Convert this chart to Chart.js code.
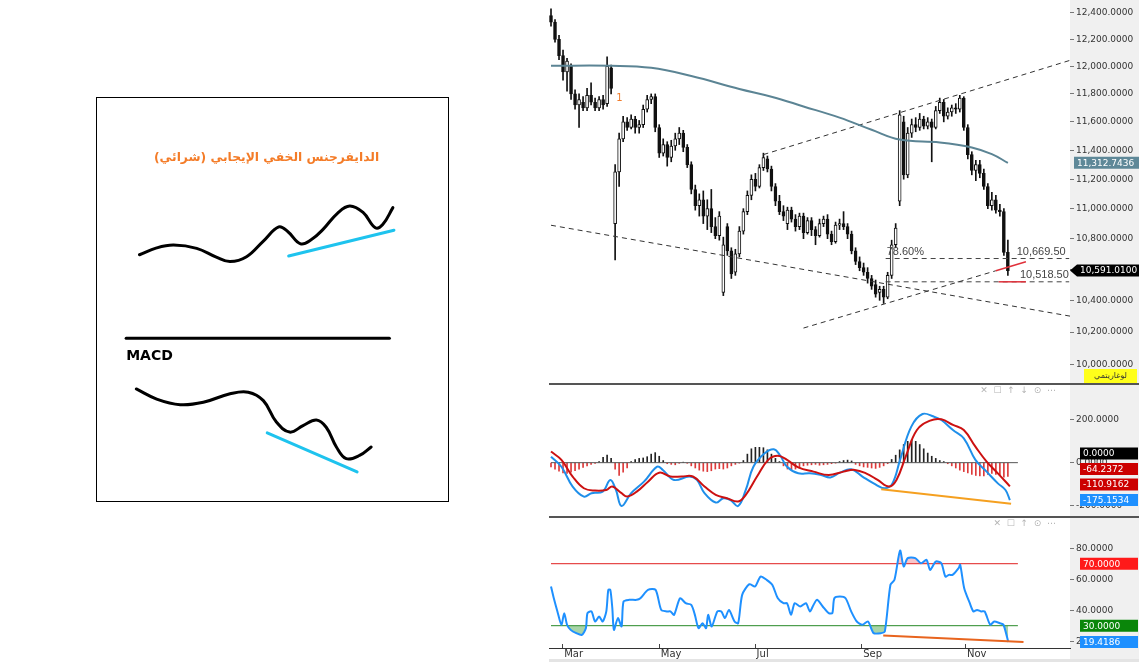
<!DOCTYPE html>
<html>
<head>
<meta charset="utf-8">
<script src="https://cdn.jsdelivr.net/npm/chart.js@4.4.1/dist/chart.umd.min.js"></script>
<style>
  body { margin:0; background:#fff; width:1139px; height:662px; overflow:hidden; position:relative; }
  .pane { position:absolute; }
  #sketchBox { left:96px; top:97px; width:351px; height:403px; border:1px solid #000; }
  #pricePane { left:549px; top:0; width:590px; height:383px; }
  #macdPane { left:549px; top:383px; width:590px; height:131px; border-top:2px solid #555; }
  #rsiPane { left:549px; top:516px; width:590px; height:144px; border-top:2px solid #555; }
</style>
</head>
<body>
<div class="pane" id="sketchBox"><canvas id="sketch" width="351" height="403"></canvas></div>
<div class="pane" id="pricePane"><canvas id="price" width="590" height="383"></canvas></div>
<div class="pane" id="macdPane"><canvas id="macd" width="590" height="131"></canvas></div>
<div class="pane" id="rsiPane"><canvas id="rsi" width="590" height="144"></canvas></div>
<script>
Chart.defaults.font.family = '"DejaVu Sans", sans-serif';
Chart.defaults.animation = false;

// ---- price panel data (one candle per ~2 sessions) ----
var priceTicks = [10000,10200,10400,10600,10800,11000,11200,11400,11600,11800,12000,12200,12400];
var open  = [12380,12330,12200,12080,11960,12000,11800,11720,11740,11700,11790,11740,11700,11760,11730,11990,10900,11250,11480,11600,
             11560,11620,11560,11580,11690,11760,11780,11560,11380,11440,11350,11430,11480,11520,11420,11300,11130,11020,11060,10950,
             11000,10880,10820,10450,10880,10720,10580,10700,10850,10980,11090,11200,11150,11280,11340,11270,11150,11050,10980,10900,
             10990,10930,10880,10950,10840,10920,10860,10820,10900,10930,10830,10780,10890,10900,10880,10830,10720,10650,10610,10580,
             10540,10500,10450,10470,10420,10560,10760,11050,11600,11230,11520,11580,11560,11620,11570,11600,11560,11680,11740,11640,
             11670,11700,11690,11770,11560,11370,11260,11300,11240,11150,11020,11060,10990,10980,10710];
var high  = [12430,12350,12230,12120,12060,12020,11830,11800,11780,11840,11880,11770,11780,11790,12070,12010,11300,11520,11640,11630,
             11650,11640,11610,11720,11790,11800,11800,11580,11480,11460,11470,11520,11560,11540,11440,11320,11160,11100,11120,11060,
             11130,10940,10980,10810,10900,10740,10730,10880,11000,11120,11230,11240,11300,11380,11360,11290,11170,11090,11020,11010,
             11010,10960,10970,10970,10940,10940,10880,10930,10950,10960,10850,10910,10930,10980,10900,10850,10740,10680,10640,10610,
             10560,10530,10490,10490,10580,10790,10900,11680,11640,11560,11620,11630,11660,11640,11630,11620,11710,11770,11760,11700,
             11720,11730,11790,11780,11580,11390,11330,11330,11270,11170,11110,11090,11030,11000,10790];
var low   = [12300,12180,12050,11900,11820,11760,11690,11560,11680,11680,11720,11680,11680,11690,11710,11800,10660,11150,11460,11540,
             11550,11520,11520,11560,11670,11730,11530,11350,11360,11290,11320,11400,11440,11390,11280,11100,10990,10950,10900,10860,
             10840,10800,10790,10430,10690,10540,10560,10680,10830,10960,11060,11120,11140,11260,11250,11120,11020,10960,10920,10860,
             10910,10850,10860,10800,10830,10820,10760,10810,10880,10800,10760,10770,10860,10860,10800,10700,10630,10590,10560,10510,
             10470,10420,10400,10380,10410,10540,10740,11020,11200,11210,11490,11530,11540,11550,11550,11320,11550,11660,11600,11620,
             11640,11660,11670,11540,11340,11230,11190,11210,11130,11000,10990,10970,10950,10690,10560];
var close = [12330,12200,12080,11960,12040,11800,11720,11760,11700,11790,11740,11700,11760,11720,12000,11840,11250,11480,11600,11560,
             11620,11560,11580,11690,11760,11780,11560,11380,11440,11350,11430,11480,11520,11420,11300,11130,11020,11060,10950,11000,
             10880,10820,10950,10760,10720,10570,10700,10850,10980,11090,11200,11150,11280,11350,11270,11150,11050,10980,10950,10990,
             10930,10880,10950,10840,10920,10860,10820,10900,10930,10830,10780,10890,10900,10880,10830,10720,10650,10610,10580,10540,
             10490,10440,10470,10420,10560,10760,10870,11650,11230,11520,11580,11560,11620,11570,11600,11560,11680,11740,11640,11670,
             11700,11690,11770,11560,11370,11260,11300,11240,11150,11020,11060,10990,10980,10710,10591.01];
var maIdx = [0,15,25,35,47,55,63,72,80,87,97,105,110,114];
var maVal = [12005,12005,11990,11930,11836,11780,11710,11630,11544,11475,11455,11420,11373,11312.7436];
var upperChannel = [[53,11370],[129.5,12045]];
var lowerChannel = [[0,10889],[129.5,10300]];
var risingLine   = [[63,10225],[111,10590]];
var risingRed    = [[111,10590],[118.5,10648]];
var fibLevels    = [10669.5, 10518.5];
var fibFrom = 83.5, fibTo = 129.3, fibRedFrom = 111.7, fibRedTo = 118.5;

// ---- MACD panel data ----
var macdX = [0,2.6,5.4,8.2,10.1,12.9,14.8,16.2,17.6,20,23.2,26.5,27.9,30.7,34.5,36.4,38.3,41.1,43,44.8,46.7,48.6,50.5,53.3,55.6,
             57.1,58.9,61.7,64.6,67.4,69.7,72.1,74.9,77.7,80.5,83.3,85.2,87.1,89.9,92.7,95.5,97.4,100.3,103,105.9,108.7,111.5,113.4,114.5];
var macdVal = [28,-19,-112,-159,-143,-136,-81,-128,-203,-143,-89,-19,-34,-81,-65,-81,-143,-187,-167,-175,-203,-128,-19,44,63,
               36,-19,-50,-50,-58,-69,-47,-31,-65,-97,-120,-97,13,169,228,216,200,153,114,13,-42,-97,-128,-175.1534];
var sigX = [0,2.6,5.4,8.2,11,13.8,15.3,17.6,19,21.4,24.2,27,29.8,32.6,35.4,38.3,41.1,43.9,46.7,48.6,51.4,54.2,56.6,58.9,61.7,
            65.5,69.3,73,75.8,78.6,81.5,84.3,86.2,88.5,91.3,94.6,97.4,100.3,103,105.9,108.7,111.5,114.5];
var sigVal = [52,13,-65,-120,-131,-128,-112,-143,-159,-136,-89,-47,-65,-65,-65,-112,-151,-167,-182,-151,-65,13,32,13,-22,
              -42,-58,-42,-34,-50,-81,-112,-81,28,153,197,203,177,153,75,5,-50,-110.9162];
var hist = [-20,-30,-40,-48,-50,-45,-38,-30,-22,-15,-8,-3, 5,25,36,20, -30,-60,-45,-25, 5,15,20,22,28,40,47,30,10,
            -5,-8,-10,-3,2,-3,-15,-25,-35,-40,-42,-38,-30,-28,-30,-25,-15,-8,-2, 10,40,65,72,72,70,60,40,20,5,
            -15,-30,-34,-30,-25,-15,-12,-10,-8,-12,-10,-8,-5,-2, 5,10,12,8, -8,-15,-20,-22,-25,-27,-22,-15,-5,
            15,35,60,85,100,106,100,85,65,45,30,20,10,5, -5,-15,-25,-35,-42,-48,-55,-60,-62,-62,-55,-50,-55,-60,-68,-64.2372];
var macdDiverg = [[82.4,-125],[114.8,-193]];
var macdTicks = [-200,0,200];

// ---- RSI panel data ----
var rsiX = [0,0.7,1.6,2.6,3.3,4,4.9,6.3,7.7,8.7,9.1,10.1,11,12,12.9,13.8,14.3,14.8,15.3,15.7,
            16.7,17.6,18.1,19.5,21.4,22.3,24.2,26.1,27.5,28.9,29.8,30.7,32.2,33.6,35,35.9,36.8,37.8,38.7,39.2,
            40.1,41.5,42.5,43.4,44.4,45.8,46.7,47.7,49.5,50.9,52.3,53.8,55.2,56.6,58,58.9,59.9,60.8,62.2,63.6,
            64.6,65.5,66.4,67.8,69.3,70.2,70.7,72.1,73.5,74.9,76.3,77.7,79.1,80.5,82.4,83.3,84.7,85.7,87.1,88,
            89,90.9,92.3,93.7,94.6,96,97.4,98.4,99.3,100.2,101.7,102.1,103.1,104.5,105.4,106.3,107.3,108.2,109.6,110.6,
            112,112.9,114.1];
var rsiVal = [55.3,47.7,39.2,30.6,38.1,30.6,27.3,25.2,24.1,28.4,38.1,39.2,32.7,35.9,32.7,39.2,53.1,53.1,41.3,27.3,
              34.9,29.5,45.6,46.7,46.7,47.7,53.1,53.1,40.2,39.2,39.2,37,47.7,44.5,43.4,37,28.4,31.6,28.4,37,
              29.5,39.2,39.2,34.9,40.2,32.7,31.6,49.9,56.8,55.3,61.7,59.6,56.4,47.7,44.5,44.5,37,44.5,42.4,44.5,
              39.2,43.4,46.7,42.4,38.1,38.1,47.7,48.8,47.7,39.2,32.7,30.6,32.7,25.2,25.2,26.3,56.4,59.6,78.5,68.2,
              73.6,73.6,70.3,72.5,66,71.4,70.3,61.7,62.8,62.8,67.1,69.3,54.2,44.5,39.2,40.2,39.2,39.2,30.6,32.7,
              31.6,30.6,19.4186];
var rsiDiverg = [[82.9,23.6],[117.9,19.4]];
var rsiTicks = [20,40,60,80];
var monthNames = ['Mar','May','Jul','Sep','Nov'];
var monthIdx = [2.8,26.9,50.8,77.4,103.3];

// ---- left sketch (box units 0..100) ----
var topCurveX = [12.1,17,21.8,28.4,34,37.9,42.6,47.4,51.8,54.4,58,61,64.4,68.5,72,75.8,79.3,81.4,84.3];
var topCurveY = [61.1,62.8,63.5,62.7,60.5,59.4,60.6,64.5,68,66.8,63.8,64.8,67.4,71.4,73.2,71.6,67.8,68.6,72.8];
var topSupportX = [54.6,84.6], topSupportY = [60.8,67.2];
var dividerX = [8.3,83.3], dividerY = [40.4,40.4];
var bottomCurveX = [11.2,17,23.7,30.3,37.9,43.1,47.4,51.1,54.9,58.7,62.5,65.3,68.2,71,74.8,78.1];
var bottomCurveY = [27.8,25.3,23.9,24.5,26.6,27,24.9,19.6,17.1,18.7,20.1,18.3,13.4,10.5,11.3,13.4];
var bottomSupportX = [48.5,74.1], bottomSupportY = [16.9,7.2];
var sketchTitle = 'الدايفرجنس الخفي الإيجابي (شرائي)';

// ---- helpers ----
var fmt4 = function(v){ return Number(v).toLocaleString('en-US',{minimumFractionDigits:4,maximumFractionDigits:4}); };
var fmt2 = function(v){ return Number(v).toLocaleString('en-US',{minimumFractionDigits:2,maximumFractionDigits:2}); };
function pts(xs, ys){ return xs.map(function(x,k){ return {x:x, y:ys[k]}; }); }
function pairPts(p){ return p.map(function(q){ return {x:q[0], y:q[1]}; }); }
function lineSet(data, color, width, dash, order){
  return {type:'line', data:data, borderColor:color, borderWidth:width, borderDash:dash||[], pointRadius:0, fill:false, order:order||0};
}
var idx = close.map(function(_, i){ return i; });

function rightAxis(ticks, extra){
  var o = {
    position:'right',
    afterBuildTicks: function(s){ s.ticks = ticks.map(function(v){ return {value:v}; }); },
    afterFit: function(s){ s.width = 69; s.paddingTop = 0; s.paddingBottom = 0; },
    grid:{drawOnChartArea:false, drawTicks:true, tickLength:4, color:'#777'},
    border:{display:false},
    ticks:{font:{size:9}, color:'#333', padding:2, autoSkip:false, callback:function(v){ return fmt4(v); }}
  };
  return Object.assign(o, extra);
}
var xHidden = {type:'linear', min:-0.5, max:129.5, display:false, offset:false};
var baseOpts = {responsive:false, animation:false, events:[], layout:{padding:0},
                plugins:{legend:{display:false}, tooltip:{enabled:false}}};

function badge(ctx, x, yc, w, text, bg, fg, arrow){
  ctx.save();
  ctx.fillStyle = bg;
  ctx.beginPath();
  if (arrow) {
    ctx.moveTo(x - 7, yc); ctx.lineTo(x, yc - 6); ctx.lineTo(x + w, yc - 6);
    ctx.lineTo(x + w, yc + 6); ctx.lineTo(x, yc + 6); ctx.closePath();
  } else {
    ctx.rect(x, yc - 6, w, 12);
  }
  ctx.fill();
  ctx.fillStyle = fg;
  ctx.font = '9px "DejaVu Sans"';
  ctx.textAlign = 'left';
  ctx.textBaseline = 'middle';
  ctx.fillText(text, x + 3, yc + 0.5);
  ctx.restore();
}
var axisBg = {
  id:'axisBg',
  beforeDraw: function(c){
    var ctx = c.ctx, a = c.chartArea;
    ctx.save(); ctx.fillStyle = '#f0f0f0';
    ctx.fillRect(a.right, 0, c.width - a.right, c.height);
    ctx.restore();
  }
};
function toolIcons(c, text){
  var ctx = c.ctx, a = c.chartArea;
  ctx.save();
  ctx.fillStyle = '#b4b4b4'; ctx.font = '9px "DejaVu Sans"';
  ctx.textAlign = 'right'; ctx.textBaseline = 'middle';
  ctx.fillText(text, a.right - 14, a.top + 6);
  ctx.restore();
}

// ---- price chart ----
var priceDecor = {
  id:'priceDecor',
  afterDraw: function(c){
    var ctx = c.ctx, a = c.chartArea, x = c.scales.x, y = c.scales.y;
    ctx.save();
    ctx.fillStyle = '#444'; ctx.font = '11px "Liberation Sans"';
    ctx.textAlign = 'left'; ctx.textBaseline = 'alphabetic';
    ctx.fillText('78.60%', x.getPixelForValue(fibFrom) + 1, y.getPixelForValue(fibLevels[0]) - 4);
    ctx.fillText(fmt2(fibLevels[0]), x.getPixelForValue(116.2), y.getPixelForValue(fibLevels[0]) - 4);
    ctx.fillText(fmt2(fibLevels[1]), x.getPixelForValue(117), y.getPixelForValue(fibLevels[1]) - 4);
    ctx.fillStyle = '#f07c2c'; ctx.font = '10px "DejaVu Sans"';
    ctx.fillText('1', x.getPixelForValue(16.3), y.getPixelForValue(11750));
    ctx.restore();
    badge(ctx, a.right + 4, y.getPixelForValue(maVal[maVal.length-1]), 65, fmt4(maVal[maVal.length-1]), '#5e8898', '#fff', false);
    badge(ctx, a.right + 7, y.getPixelForValue(close[close.length-1]), 62, fmt4(close[close.length-1]), '#000', '#fff', true);
    ctx.save();
    ctx.fillStyle = '#ffff1a';
    ctx.fillRect(a.right + 14, a.bottom - 14, 53, 14);
    ctx.fillStyle = '#333'; ctx.font = '8px "DejaVu Sans"';
    ctx.textAlign = 'center'; ctx.textBaseline = 'middle'; ctx.direction = 'rtl';
    ctx.fillText('لوغاريتمي', a.right + 40.5, a.bottom - 7);
    ctx.restore();
  }
};
new Chart(document.getElementById('price'), {
  type:'bar',
  data:{datasets:[
    {type:'bar', data: idx.map(function(i){ return {x:i, y:[open[i], close[i]]}; }),
     backgroundColor: idx.map(function(i){ return close[i] >= open[i] ? '#ffffff' : '#111111'; }),
     borderColor:'#111', borderWidth:1, borderSkipped:false, barThickness:3, grouped:false, order:2},
    {type:'bar', data: idx.map(function(i){ return {x:i, y:[low[i], high[i]]}; }),
     backgroundColor:'#111', barThickness:1, grouped:false, order:3},
    Object.assign(lineSet(pts(maIdx, maVal), '#5b8494', 2, null, 0), {tension:0.4}),
    lineSet(pairPts(upperChannel), '#333', 1, [5,4], 1),
    lineSet(pairPts(lowerChannel), '#333', 1, [5,4], 1),
    lineSet(pairPts(risingLine), '#333', 1, [5,4], 1),
    lineSet(pairPts(risingRed), '#e0303a', 1.5, null, 0),
    lineSet([{x:fibFrom, y:fibLevels[0]}, {x:fibTo, y:fibLevels[0]}], '#444', 1, [5,4], 1),
    lineSet([{x:fibFrom, y:fibLevels[1]}, {x:fibTo, y:fibLevels[1]}], '#444', 1, [5,4], 1),
    lineSet([{x:fibRedFrom, y:fibLevels[1]}, {x:fibRedTo, y:fibLevels[1]}], '#e0303a', 1.5, null, 0)
  ]},
  options: Object.assign({}, baseOpts, {
    scales:{
      x: xHidden,
      y: rightAxis(priceTicks, {type:'logarithmic', min:9887, max:12498, bounds:'data'})
    }
  }),
  plugins:[axisBg, priceDecor]
});

// ---- MACD chart ----
var macdBadges = [[0,'#000'],[hist[hist.length-1],'#cc0000'],[sigVal[sigVal.length-1],'#cc0000'],[macdVal[macdVal.length-1],'#1e90ff']];
var macdDecor = {
  id:'macdDecor',
  afterDraw: function(c){
    var ctx = c.ctx, a = c.chartArea, y = c.scales.y;
    toolIcons(c, '✕  ☐  ↑  ↓  ⊙  ⋯');
    var pos = macdBadges.map(function(b){ return y.getPixelForValue(b[0]); });
    for (var k = pos.length - 2; k >= 0; k--) pos[k] = Math.min(pos[k], pos[k+1] - 15.5);
    macdBadges.forEach(function(b, k){ badge(ctx, a.right + 10, pos[k], 58, fmt4(b[0]), b[1], '#fff', false); });
  }
};
new Chart(document.getElementById('macd'), {
  type:'bar',
  data:{datasets:[
    {type:'bar', data: idx.map(function(i){ return {x:i, y:hist[i]}; }),
     backgroundColor: hist.map(function(v){ return v >= 0 ? '#222' : '#dd3a3a'; }), barThickness:1, grouped:false, order:4},
    lineSet([{x:0,y:0},{x:116.5,y:0}], '#555', 1, null, 3),
    Object.assign(lineSet(pts(sigX, sigVal), '#cc1111', 2, null, 1), {tension:0.4}),
    Object.assign(lineSet(pts(macdX, macdVal), '#1f8fea', 2, null, 2), {tension:0.4}),
    lineSet(pairPts(macdDiverg), '#f5a020', 2, null, 0)
  ]},
  options: Object.assign({}, baseOpts, {
    scales:{ x: xHidden, y: rightAxis(macdTicks, {type:'linear', min:-250, max:364}) }
  }),
  plugins:[axisBg, macdDecor]
});

// ---- RSI chart ----
var rsiBadges = [[70,'#ff1a1a'],[30,'#0a860a'],[rsiVal[rsiVal.length-1],'#1e90ff']];
var rsiDecor = {
  id:'rsiDecor',
  afterDraw: function(c){
    var ctx = c.ctx, a = c.chartArea, x = c.scales.x, y = c.scales.y;
    toolIcons(c, '✕  ☐  ↑  ⊙  ⋯');
    ctx.save();
    ctx.strokeStyle = '#444'; ctx.lineWidth = 1;
    monthIdx.forEach(function(m){
      var px = Math.round(x.getPixelForValue(m)) + 0.5;
      ctx.beginPath(); ctx.moveTo(px, a.bottom); ctx.lineTo(px, a.bottom - 4); ctx.stroke();
    });
    ctx.fillStyle = '#e4e4e4';
    ctx.fillRect(0, c.height - 3, c.width, 3);
    ctx.restore();
    rsiBadges.forEach(function(b){ badge(ctx, a.right + 10, y.getPixelForValue(b[0]), 58, fmt4(b[0]), b[1], '#fff', false); });
  }
};
new Chart(document.getElementById('rsi'), {
  type:'line',
  data:{datasets:[
    {data: pts(rsiX, rsiVal), borderWidth:0, pointRadius:0, order:5, tension:0.25,
     fill:{target:{value:70}, above:'rgba(235,90,100,0.35)', below:'rgba(0,0,0,0)'}},
    {data: pts(rsiX, rsiVal), borderWidth:0, pointRadius:0, order:5, tension:0.25,
     fill:{target:{value:30}, above:'rgba(0,0,0,0)', below:'rgba(60,160,60,0.45)'}},
    lineSet([{x:0,y:70},{x:116.5,y:70}], '#e02020', 1, null, 2),
    lineSet([{x:0,y:30},{x:116.5,y:30}], '#2a8a2a', 1, null, 2),
    Object.assign(lineSet(pts(rsiX, rsiVal), '#1e90ff', 2, null, 1), {tension:0.25}),
    lineSet(pairPts(rsiDiverg), '#e8641e', 2, null, 0)
  ]},
  options: Object.assign({}, baseOpts, {
    scales:{
      x:{type:'linear', min:-0.5, max:129.5, offset:false, position:'bottom',
         afterBuildTicks: function(s){ s.ticks = monthIdx.map(function(v){ return {value:v}; }); },
         afterFit: function(s){ s.height = 14; s.paddingLeft = 0; s.paddingRight = 0; },
         grid:{drawOnChartArea:false, drawTicks:false},
         border:{display:true, color:'#333', width:1},
         ticks:{font:{size:10}, color:'#333', padding:0, autoSkip:false, maxRotation:0, align:'start', labelOffset:2,
                callback:function(v, k){ return monthNames[k]; }}},
      y: rightAxis(rsiTicks, {type:'linear', min:15.6, max:99.5})
    }
  }),
  plugins:[axisBg, rsiDecor]
});

// ---- left sketch ----
var sketchText = {
  id:'sketchText',
  afterDraw: function(c){
    var ctx = c.ctx, x = c.scales.x, y = c.scales.y;
    ctx.save();
    ctx.direction = 'rtl';
    ctx.textAlign = 'center'; ctx.textBaseline = 'middle';
    ctx.font = 'bold 16px "DejaVu Sans"';
    var w = ctx.measureText(sketchTitle).width;
    var size = Math.min(18, 16 * 225 / w);
    ctx.font = 'bold ' + size.toFixed(1) + 'px "DejaVu Sans"';
    ctx.fillStyle = '#f47c28';
    ctx.fillText(sketchTitle, x.getPixelForValue(48.3), y.getPixelForValue(85.1));
    ctx.restore();
    ctx.save();
    ctx.fillStyle = '#000'; ctx.font = 'bold 14px "DejaVu Sans"';
    ctx.textAlign = 'left'; ctx.textBaseline = 'alphabetic';
    ctx.fillText('MACD', x.getPixelForValue(8.3), y.getPixelForValue(35.1));
    ctx.restore();
  }
};
function sketchLine(xs, ys, color, tension){
  return {data: pts(xs, ys), showLine:true, borderColor:color, borderWidth:3, pointRadius:0,
          tension:tension, borderCapStyle:'round', fill:false};
}
new Chart(document.getElementById('sketch'), {
  type:'scatter',
  data:{datasets:[
    sketchLine(topCurveX, topCurveY, '#000', 0.4),
    sketchLine(topSupportX, topSupportY, '#1ec3ee', 0),
    sketchLine(dividerX, dividerY, '#000', 0),
    sketchLine(bottomCurveX, bottomCurveY, '#000', 0.4),
    sketchLine(bottomSupportX, bottomSupportY, '#1ec3ee', 0)
  ]},
  options: Object.assign({}, baseOpts, {
    scales:{ x:{type:'linear', min:0, max:100, display:false}, y:{type:'linear', min:0, max:100, display:false} }
  }),
  plugins:[sketchText]
});
</script>
</body>
</html>
